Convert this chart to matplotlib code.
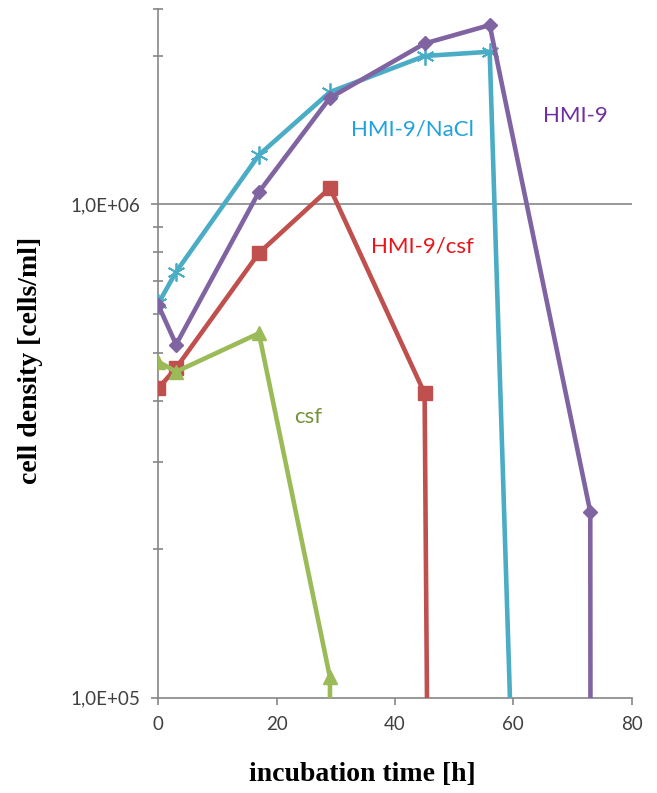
import numpy as np
import matplotlib.pyplot as plt
from matplotlib.ticker import FixedLocator, NullFormatter

# sampling times [h] and cell densities [cells/ml]
# last point of every series is below 1E+05 (culture collapsed), gets clipped by the axis
t_nacl = [0, 3, 17, 29, 45, 56, 60]
nacl = [6.3e5, 7.3e5, 1.26e6, 1.69e6, 2.0e6, 2.04e6, 6e4]

t_hmi9 = [0, 3, 17, 29, 45, 56, 73, 73.1]
hmi9 = [6.25e5, 5.2e5, 1.06e6, 1.645e6, 2.12e6, 2.31e6, 2.38e5, 1e4]

t_hmi9_csf = [0, 3, 17, 29, 45, 45.5]
hmi9_csf = [4.24e5, 4.66e5, 7.97e5, 1.08e6, 4.14e5, 7e4]

t_csf = [0, 3, 17, 29, 29.2]
csf = [4.8e5, 4.58e5, 5.48e5, 1.1e5, 1e4]

x_ticks = [0, 20, 40, 60, 80]
y_ticks = [1e5, 1e6]
y_ticklabels = ["1,0E+05", "1,0E+06"]

# series labels written inside the plot: text, x, y, colour
labels = [
    ("HMI-9/NaCl", 43.0, 1.42e6, "#1fa3dc"),
    ("HMI-9", 70.5, 1.51e6, "#7030a0"),
    ("HMI-9/csf", 44.6, 8.2e5, "#e8161b"),
    ("csf", 25.3, 3.7e5, "#76923c"),
]

plt.rcParams["font.family"] = ["Lato", "DejaVu Sans"]

fig = plt.figure(figsize=(6.57, 7.93), dpi=100)
ax = fig.add_axes([0.241, 0.1202, 0.7205, 0.8684])

axis_grey = "#868686"

# lines (excel 2007 default palette)
ax.plot(t_nacl, nacl, color="#4bacc6", lw=3.3, marker=(6, 2, 0), ms=13, mew=1.3,
        mec="#4bacc6", zorder=3)
ax.plot(t_hmi9, hmi9, color="#8064a2", lw=3.3, marker="D", ms=7.5, zorder=4)
ax.plot(t_hmi9_csf, hmi9_csf, color="#c0504d", lw=3.3, marker="s", ms=10, zorder=5)
ax.plot(t_csf, csf, color="#9bbb59", lw=3.3, marker="^", ms=10, zorder=6)

for txt, x, y, c in labels:
    ax.text(x, y, txt, color=c, fontsize=16, ha="center", va="center")

ax.set_yscale("log")
ax.set_xlim(0, 80)
ax.set_ylim(1e5, 2.49e6)

ax.xaxis.set_major_locator(FixedLocator(x_ticks))
ax.set_xticklabels([str(v) for v in x_ticks])
ax.yaxis.set_major_locator(FixedLocator(y_ticks))
ax.set_yticklabels(y_ticklabels)
minor = [k * 1e5 for k in range(2, 10)] + [2e6, 2.49e6]
ax.yaxis.set_minor_locator(FixedLocator(minor))
ax.yaxis.set_minor_formatter(NullFormatter())

# only the 1E+06 gridline
ax.axhline(1e6, color=axis_grey, lw=1.2, zorder=1)

for s in ["top", "right"]:
    ax.spines[s].set_visible(False)
for s in ["left", "bottom"]:
    ax.spines[s].set_color(axis_grey)
    ax.spines[s].set_linewidth(1.2)

ax.tick_params(axis="both", which="major", colors=axis_grey, labelcolor="#404040",
               labelsize=13.5, length=5, width=1.2, direction="out", pad=8)
ax.tick_params(axis="y", which="minor", colors=axis_grey, length=6.5, width=1.2,
               direction="inout")

# axis titles in bold times-like serif
fig.text(0.551, 0.0235, "incubation time [h]", family="Liberation Serif",
         weight="bold", fontsize=20, ha="center", va="center")
fig.text(0.047, 0.546, "cell density [cells/ml]", family="Liberation Serif",
         weight="bold", fontsize=20, ha="center", va="center", rotation=90)

plt.savefig("out.png", dpi=100)
